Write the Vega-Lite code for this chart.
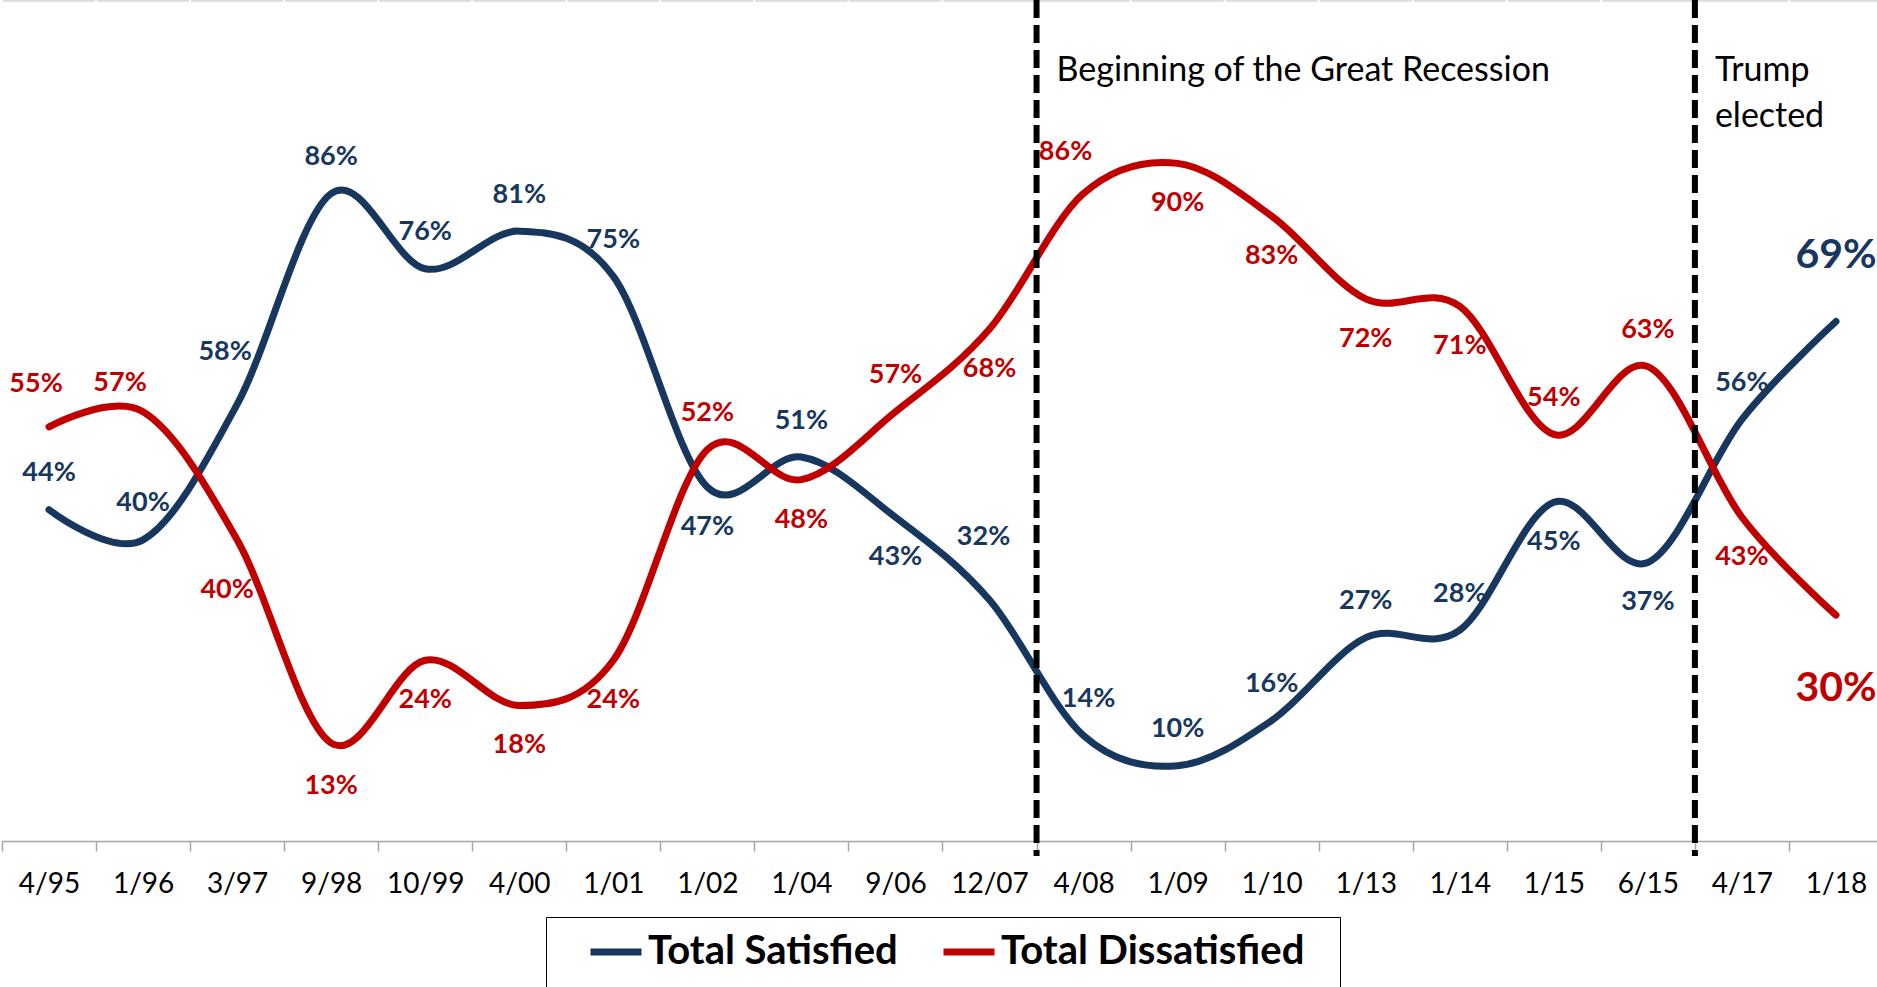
{
  "$schema": "https://vega.github.io/schema/vega-lite/v6.json",
  "width": 1875,
  "height": 841,
  "padding": {"left": 2, "top": 0, "right": 0, "bottom": 146},
  "autosize": {"type": "none"},
  "background": "white",
  "config": {"font": "Lato", "view": {"stroke": null}},
  "datasets": {
    "events": [
      {"date": "4/08", "label": "Beginning of the Great Recession"},
      {"date": "4/17", "label": "Trump\nelected"}
    ]
  },
  "data": {
    "values": [
      {"date": "4/95", "series": "Total Satisfied", "value": 0.44},
      {"date": "1/96", "series": "Total Satisfied", "value": 0.40},
      {"date": "3/97", "series": "Total Satisfied", "value": 0.58},
      {"date": "9/98", "series": "Total Satisfied", "value": 0.86},
      {"date": "10/99", "series": "Total Satisfied", "value": 0.76},
      {"date": "4/00", "series": "Total Satisfied", "value": 0.81},
      {"date": "1/01", "series": "Total Satisfied", "value": 0.75},
      {"date": "1/02", "series": "Total Satisfied", "value": 0.47},
      {"date": "1/04", "series": "Total Satisfied", "value": 0.51},
      {"date": "9/06", "series": "Total Satisfied", "value": 0.43},
      {"date": "12/07", "series": "Total Satisfied", "value": 0.32},
      {"date": "4/08", "series": "Total Satisfied", "value": 0.14},
      {"date": "1/09", "series": "Total Satisfied", "value": 0.10},
      {"date": "1/10", "series": "Total Satisfied", "value": 0.16},
      {"date": "1/13", "series": "Total Satisfied", "value": 0.27},
      {"date": "1/14", "series": "Total Satisfied", "value": 0.28},
      {"date": "1/15", "series": "Total Satisfied", "value": 0.45},
      {"date": "6/15", "series": "Total Satisfied", "value": 0.37},
      {"date": "4/17", "series": "Total Satisfied", "value": 0.56},
      {"date": "1/18", "series": "Total Satisfied", "value": 0.69},
      {"date": "4/95", "series": "Total Dissatisfied", "value": 0.55},
      {"date": "1/96", "series": "Total Dissatisfied", "value": 0.57},
      {"date": "3/97", "series": "Total Dissatisfied", "value": 0.40},
      {"date": "9/98", "series": "Total Dissatisfied", "value": 0.13},
      {"date": "10/99", "series": "Total Dissatisfied", "value": 0.24},
      {"date": "4/00", "series": "Total Dissatisfied", "value": 0.18},
      {"date": "1/01", "series": "Total Dissatisfied", "value": 0.24},
      {"date": "1/02", "series": "Total Dissatisfied", "value": 0.52},
      {"date": "1/04", "series": "Total Dissatisfied", "value": 0.48},
      {"date": "9/06", "series": "Total Dissatisfied", "value": 0.57},
      {"date": "12/07", "series": "Total Dissatisfied", "value": 0.68},
      {"date": "4/08", "series": "Total Dissatisfied", "value": 0.86},
      {"date": "1/09", "series": "Total Dissatisfied", "value": 0.90},
      {"date": "1/10", "series": "Total Dissatisfied", "value": 0.83},
      {"date": "1/13", "series": "Total Dissatisfied", "value": 0.72},
      {"date": "1/14", "series": "Total Dissatisfied", "value": 0.71},
      {"date": "1/15", "series": "Total Dissatisfied", "value": 0.54},
      {"date": "6/15", "series": "Total Dissatisfied", "value": 0.63},
      {"date": "4/17", "series": "Total Dissatisfied", "value": 0.43},
      {"date": "1/18", "series": "Total Dissatisfied", "value": 0.30}
    ]
  },
  "encoding": {
    "x": {
      "field": "date",
      "type": "ordinal",
      "sort": null,
      "scale": {
        "domain": ["4/95","1/96","3/97","9/98","10/99","4/00","1/01","1/02","1/04","9/06","12/07","4/08","1/09","1/10","1/13","1/14","1/15","6/15","4/17","1/18"],
        "range": [0, 1881],
        "paddingInner": 0,
        "paddingOuter": 0
      },
      "axis": {
        "title": null,
        "labelAngle": 0,
        "labelFontSize": 28,
        "labelColor": "#000000",
        "labelPadding": 19,
        "tickBand": "extent",
        "tickSize": 10,
        "tickColor": "#a6a6a6",
        "tickWidth": 1.5,
        "domainColor": "#a6a6a6",
        "domainWidth": 1.5,
        "grid": false
      }
    }
  },
  "layer": [
    {
      "mark": {"type": "tick", "orient": "horizontal", "color": "#d9d9d9", "thickness": 2, "size": 92},
      "encoding": {"y": {"datum": 1.116, "type": "quantitative", "scale": {"domain": [0, 1.117], "nice": false, "zero": false}, "axis": null}}
    },
    {
      "mark": {"type": "line", "interpolate": "cardinal", "tension": 0, "strokeWidth": 7, "strokeCap": "round", "strokeJoin": "round"},
      "encoding": {
        "y": {"field": "value", "type": "quantitative", "scale": {"domain": [0, 1.117], "nice": false, "zero": false}, "axis": null},
        "color": {
          "field": "series",
          "type": "nominal",
          "scale": {"domain": ["Total Satisfied", "Total Dissatisfied"], "range": ["#17375E", "#C00000"]},
          "legend": {
            "orient": "none",
            "legendX": 544,
            "legendY": 917,
            "direction": "horizontal",
            "title": " ",
            "titleOrient": "left",
            "titleFontSize": 60,
            "titleBaseline": "top",
            "titlePadding": 35,
            "strokeColor": "#000000",
            "padding": 6,
            "labelFontSize": 40,
            "labelFontWeight": "bold",
            "labelColor": "#000000",
            "labelLimit": 0,
            "labelExpr": "datum.label == 'Total Dissatisfied' ? datum.label + '\u2800' : datum.label",
            "symbolType": "stroke",
            "symbolSize": 2601,
            "symbolStrokeWidth": 7,
            "labelOffset": 3,
            "columnPadding": 31
          }
        }
      }
    },
    {
      "transform": [{"filter": "datum.series == 'Total Satisfied'"}],
      "mark": {
        "type": "text",
        "fontWeight": "bold",
        "baseline": "middle",
        "align": "center",
        "fontSize": {"expr": "datum.date == '1/18' ? 41 : 27"},
        "dy": {"expr": "datum.date == '3/97' ? -52 : datum.date == '12/07' ? -63 : datum.date == '1/18' ? -65.5 : indexof(['1/02','9/06','1/15','6/15'], datum.date) >= 0 ? 39.5 : -36.5"},
        "dx": {"expr": "datum.date == '3/97' ? -12 : datum.date == '12/07' ? -6 : datum.date == '4/08' ? 5 : 0"}
      },
      "encoding": {
        "y": {"field": "value", "type": "quantitative", "scale": {"domain": [0, 1.117], "nice": false, "zero": false}, "axis": null},
        "text": {"field": "value", "type": "quantitative", "format": ".0%"},
        "color": {"field": "series", "type": "nominal", "legend": null}
      }
    },
    {
      "transform": [{"filter": "datum.series == 'Total Dissatisfied'"}],
      "mark": {
        "type": "text",
        "fontWeight": "bold",
        "baseline": "middle",
        "align": "center",
        "fontSize": {"expr": "datum.date == '1/18' ? 41 : 27"},
        "dy": {"expr": "datum.date == '4/95' ? -42.5 : datum.date == '1/96' ? -28.5 : datum.date == '4/08' ? -41.5 : datum.date == '3/97' ? 50.5 : datum.date == '9/98' ? 42.5 : datum.date == '1/18' ? 73.5 : indexof(['1/02','9/06','1/15','6/15'], datum.date) >= 0 ? -36.5 : 40"},
        "dx": {"expr": "datum.date == '4/95' ? -13 : datum.date == '1/96' ? -23 : datum.date == '3/97' ? -10 : datum.date == '4/08' ? -18 : 0"}
      },
      "encoding": {
        "y": {"field": "value", "type": "quantitative", "scale": {"domain": [0, 1.117], "nice": false, "zero": false}, "axis": null},
        "text": {"field": "value", "type": "quantitative", "format": ".0%"},
        "color": {"field": "series", "type": "nominal", "legend": null}
      }
    },
    {
      "data": {"name": "events"},
      "mark": {"type": "rule", "color": "#000000", "strokeWidth": 6, "strokeDash": [18, 7]},
      "encoding": {
        "x": {"field": "date", "type": "ordinal", "bandPosition": 0},
        "y": {"datum": 1.117, "type": "quantitative"},
        "y2": {"datum": -0.02}
      }
    },
    {
      "data": {"name": "events"},
      "mark": {"type": "text", "align": "left", "baseline": "alphabetic", "fontSize": 34, "dx": 20, "lineBreak": "\n", "lineHeight": 46, "color": "#000000"},
      "encoding": {
        "x": {"field": "date", "type": "ordinal", "bandPosition": 0},
        "y": {"datum": 1.009, "type": "quantitative"},
        "text": {"field": "label"}
      }
    }
  ]
}
